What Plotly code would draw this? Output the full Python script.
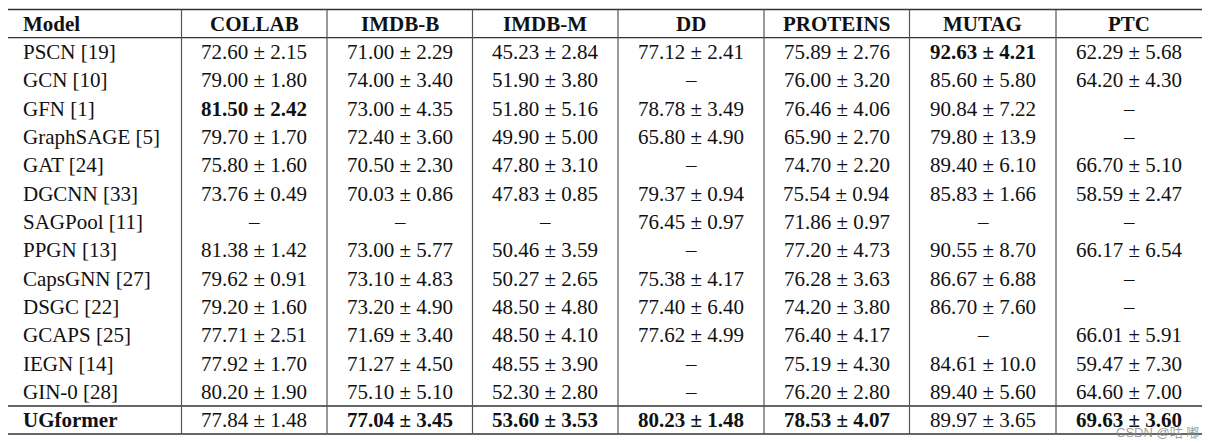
import plotly.graph_objects as go

# table content
columns = ["Model", "COLLAB", "IMDB-B", "IMDB-M", "DD", "PROTEINS", "MUTAG", "PTC"]
models = ["PSCN [19]", "GCN [10]", "GFN [1]", "GraphSAGE [5]", "GAT [24]", "DGCNN [33]",
          "SAGPool [11]", "PPGN [13]", "CapsGNN [27]", "DSGC [22]", "GCAPS [25]",
          "IEGN [14]", "GIN-0 [28]", "UGformer"]

collab = ["72.60 ± 2.15", "79.00 ± 1.80", "81.50 ± 2.42", "79.70 ± 1.70", "75.80 ± 1.60",
          "73.76 ± 0.49", "–", "81.38 ± 1.42", "79.62 ± 0.91", "79.20 ± 1.60",
          "77.71 ± 2.51", "77.92 ± 1.70", "80.20 ± 1.90", "77.84 ± 1.48"]
imdb_b = ["71.00 ± 2.29", "74.00 ± 3.40", "73.00 ± 4.35", "72.40 ± 3.60", "70.50 ± 2.30",
          "70.03 ± 0.86", "–", "73.00 ± 5.77", "73.10 ± 4.83", "73.20 ± 4.90",
          "71.69 ± 3.40", "71.27 ± 4.50", "75.10 ± 5.10", "77.04 ± 3.45"]
imdb_m = ["45.23 ± 2.84", "51.90 ± 3.80", "51.80 ± 5.16", "49.90 ± 5.00", "47.80 ± 3.10",
          "47.83 ± 0.85", "–", "50.46 ± 3.59", "50.27 ± 2.65", "48.50 ± 4.80",
          "48.50 ± 4.10", "48.55 ± 3.90", "52.30 ± 2.80", "53.60 ± 3.53"]
dd = ["77.12 ± 2.41", "–", "78.78 ± 3.49", "65.80 ± 4.90", "–",
      "79.37 ± 0.94", "76.45 ± 0.97", "–", "75.38 ± 4.17", "77.40 ± 6.40",
      "77.62 ± 4.99", "–", "–", "80.23 ± 1.48"]
proteins = ["75.89 ± 2.76", "76.00 ± 3.20", "76.46 ± 4.06", "65.90 ± 2.70", "74.70 ± 2.20",
            "75.54 ± 0.94", "71.86 ± 0.97", "77.20 ± 4.73", "76.28 ± 3.63", "74.20 ± 3.80",
            "76.40 ± 4.17", "75.19 ± 4.30", "76.20 ± 2.80", "78.53 ± 4.07"]
mutag = ["92.63 ± 4.21", "85.60 ± 5.80", "90.84 ± 7.22", "79.80 ± 13.9", "89.40 ± 6.10",
         "85.83 ± 1.66", "–", "90.55 ± 8.70", "86.67 ± 6.88", "86.70 ± 7.60",
         "–", "84.61 ± 10.0", "89.40 ± 5.60", "89.97 ± 3.65"]
ptc = ["62.29 ± 5.68", "64.20 ± 4.30", "–", "–", "66.70 ± 5.10",
       "58.59 ± 2.47", "–", "66.17 ± 6.54", "–", "–",
       "66.01 ± 5.91", "59.47 ± 7.30", "64.60 ± 7.00", "69.63 ± 3.60"]

# (row, column) cells set in bold
bold_cells = [(2, 1), (0, 6), (13, 0), (13, 2), (13, 3), (13, 4), (13, 5), (13, 7)]

data_cols = [models, collab, imdb_b, imdb_m, dd, proteins, mutag, ptc]

# geometry in page pixels (page body has an 8px margin, so the axes are offset by 8)
W, H = 1215, 444
OFF = 8
col_edges = [8, 181.5, 327, 472.5, 618, 764, 909.5, 1056, 1202]
top, head_bottom, sep, bottom = 9.5, 37.7, 406, 434
row_h = (sep - head_bottom) / 13

FONT = "Liberation Serif"
SIZE = 21


def cell_x(j):
    if j == 0:
        return col_edges[0] + 13, "left"
    return (col_edges[j] + col_edges[j + 1]) / 2, "center"


fig = go.Figure()
fig.add_trace(go.Scatter(x=[OFF, W + OFF], y=[OFF, H + OFF], mode="markers",
                         marker=dict(opacity=0), hoverinfo="skip", showlegend=False))

# header
for j, name in enumerate(columns):
    x, anchor = cell_x(j)
    fig.add_annotation(x=x, y=(top + head_bottom) / 2 + 0.5, text="<b>" + name + "</b>",
                       xanchor=anchor, yanchor="middle", showarrow=False,
                       font=dict(family=FONT, size=SIZE, color="#111"))

# body
for j, col in enumerate(data_cols):
    for i, val in enumerate(col):
        if i < 13:
            yc = head_bottom + row_h * (i + 0.5)
        else:
            yc = (sep + bottom) / 2
        txt = "<b>" + val + "</b>" if (i, j) in bold_cells else val
        x, anchor = cell_x(j)
        fig.add_annotation(x=x, y=yc, text=txt, xanchor=anchor, yanchor="middle",
                           showarrow=False, font=dict(family=FONT, size=SIZE, color="#111"))

# rules
for y in [top, head_bottom, sep, bottom]:
    fig.add_shape(type="line", x0=col_edges[0], x1=col_edges[-1], y0=y, y1=y,
                  line=dict(color="#333", width=1.3))
for x in col_edges[1:-1]:
    fig.add_shape(type="line", x0=x, x1=x, y0=top, y1=bottom,
                  line=dict(color="#555", width=1.2))

# watermark
fig.add_annotation(x=1201, y=432, text="CSDN @咕 嘟", xanchor="right", yanchor="middle",
                   showarrow=False,
                   font=dict(family="Liberation Sans, Noto Sans CJK SC", size=13,
                             color="rgba(140,140,140,0.85)"))

fig.update_layout(width=W, height=H, margin=dict(l=0, r=0, t=0, b=0),
                  plot_bgcolor="white", paper_bgcolor="white",
                  xaxis=dict(range=[OFF, W + OFF], visible=False, fixedrange=True),
                  yaxis=dict(range=[H + OFF, OFF], visible=False, fixedrange=True))

fig.write_html("out.html")
